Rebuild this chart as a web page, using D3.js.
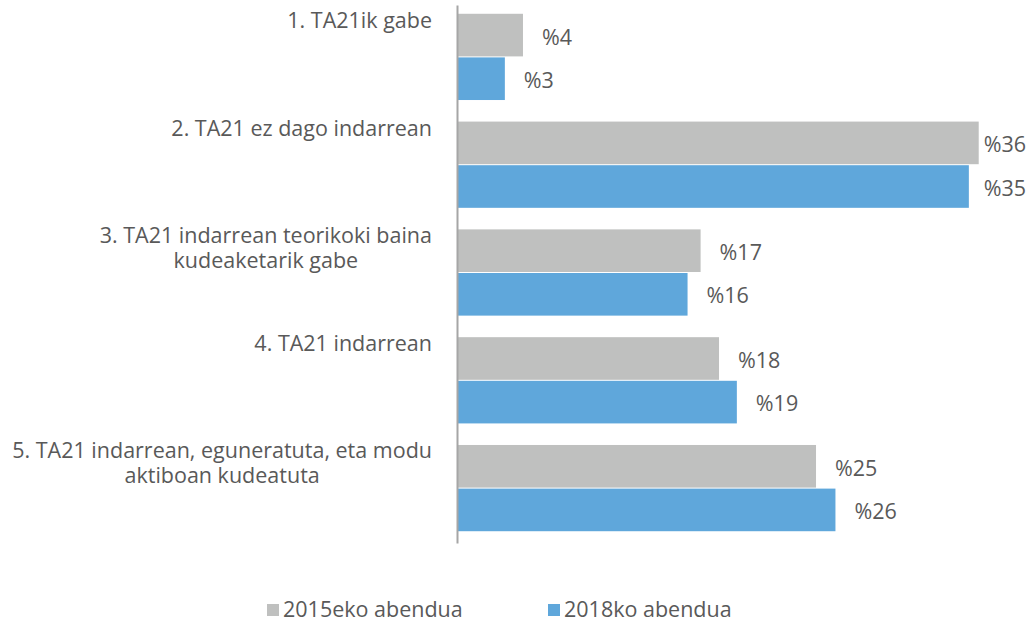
<!DOCTYPE html>
<html>
<head>
<meta charset="utf-8">
<script src="https://cdn.jsdelivr.net/npm/d3@7"></script>
<style>
  html, body { margin: 0; padding: 0; background: #fff; }
  svg text { font-family: "Open Sans", "Noto Sans", sans-serif; fill: #595959; }
</style>
</head>
<body>
<svg id="chart" width="1033" height="629"></svg>
<script>
const categories = [
  ["1. TA21ik gabe"],
  ["2. TA21 ez dago indarrean"],
  ["3. TA21 indarrean teorikoki baina", "kudeaketarik gabe"],
  ["4. TA21 indarrean"],
  ["5. TA21 indarrean, eguneratuta, eta modu", "aktiboan kudeatuta"]
];
const seriesNames = ["2015eko abendua", "2018ko abendua"];
const values2015 = [4.55, 35.98, 16.8, 18.07, 24.76];
const values2018 = [3.3, 35.3, 15.9, 19.3, 26.1];
const labels2015 = ["%4", "%36", "%17", "%18", "%25"];
const labels2018 = ["%3", "%35", "%16", "%19", "%26"];
const colors = ["#BFC0BF", "#5FA7DB"];

const FS = "21.5px";
const svg = d3.select("#chart");
const x0 = 457;

const y = d3.scaleBand().domain(d3.range(categories.length)).range([3, 542]).paddingInner(0.2).paddingOuter(0.1);
const yBand = d3.scaleBand().domain(d3.range(categories.length)).range([5, 543]);
const ySub = d3.scaleBand().domain([0, 1]).range([0, y.bandwidth()]);
const x = d3.scaleLinear().domain([0, 40]).range([x0, x0 + 14.5 * 40]);

const series = [values2015, values2018];
const labels = [labels2015, labels2018];
const rightLimit = 1026;

series.forEach((vals, s) => {
  const g = svg.append("g");
  g.selectAll("rect").data(vals).join("rect")
    .attr("x", x(0))
    .attr("y", (d, i) => y(i) + ySub(s) + (s === 1 ? 0.5 : 0))
    .attr("width", d => x(d) - x(0))
    .attr("height", ySub.bandwidth() - 0.5)
    .attr("fill", colors[s]);
  const txt = g.selectAll("text").data(vals).join("text")
    .attr("x", d => x(d) + 19)
    .attr("y", (d, i) => y(i) + ySub(s) + ySub.bandwidth() / 2 + 3.5)
    .attr("dominant-baseline", "middle")
    .style("font-size", FS)
    .text((d, i) => labels[s][i]);
  txt.each(function(d) {
    const w = this.getComputedTextLength();
    if (x(d) + 19 + w > rightLimit) d3.select(this).attr("x", rightLimit - w);
  });
});

// axis
const yAxis = d3.axisLeft(yBand).tickSize(0).tickFormat("");
const axG = svg.append("g").attr("transform", `translate(${x0},0)`).call(yAxis);
axG.select(".domain").attr("stroke", "#A6A6A6").attr("stroke-width", 2);

// category labels (block right-aligned, lines centred)
const catG = svg.append("g");
categories.forEach((lines, i) => {
  const t = catG.append("text")
    .attr("y", yBand(i) + 23)
    .style("font-size", FS);
  const spans = lines.map((ln, j) =>
    t.append("tspan").attr("dy", j === 0 ? 0 : 25).text(ln));
  const maxW = d3.max(spans, sp => sp.node().getComputedTextLength());
  t.attr("text-anchor", "middle");
  spans.forEach(sp => sp.attr("x", 432 - maxW / 2));
});

// legend
const legendX = [267, 548];
seriesNames.forEach((name, s) => {
  const g = svg.append("g").attr("transform", `translate(${legendX[s]},604)`);
  g.append("rect").attr("width", 12).attr("height", 12).attr("fill", colors[s]);
  g.append("text").attr("x", 16).attr("y", 7).attr("dominant-baseline", "middle")
    .style("font-size", FS).text(name);
});
</script>
</body>
</html>
